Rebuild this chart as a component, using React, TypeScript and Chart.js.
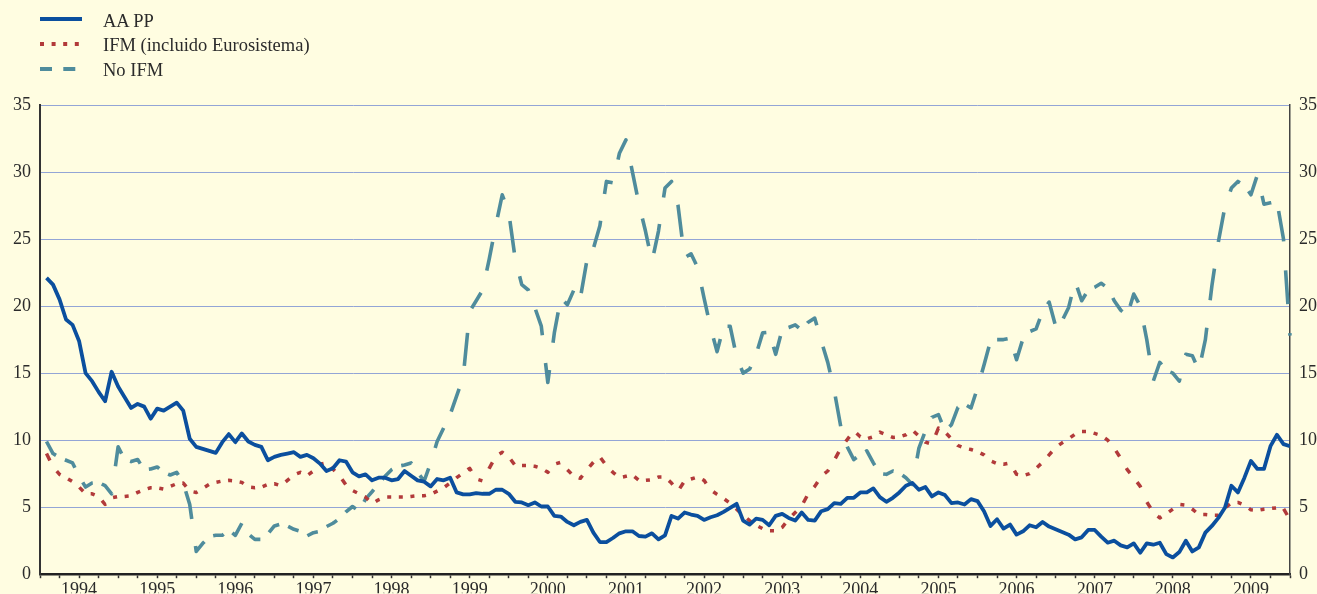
import React, { useEffect, useRef } from 'react';
import { Chart, registerables } from 'chart.js';

Chart.register(...registerables);

// ---------- data (monthly, Jan 1994 - Dec 2009) ----------
const YEARS = ['1994', '1995', '1996', '1997', '1998', '1999', '2000', '2001', '2002', '2003', '2004', '2005', '2006', '2007', '2008', '2009'];
const Y_TICKS = [0, 5, 10, 15, 20, 25, 30, 35];

const AA_PP = [
  22.1, 21.6, 20.5, 19.0, 18.6, 17.4, 15.0, 14.4, 13.6, 12.9, 15.1, 14.0,
  13.2, 12.4, 12.7, 12.5, 11.6, 12.35, 12.2, 12.5, 12.8, 12.2, 10.1, 9.5,
  9.35, 9.2, 9.05, 9.85, 10.45, 9.85, 10.5, 9.9, 9.65, 9.5, 8.5, 8.75,
  8.9, 9.0, 9.1, 8.75, 8.9, 8.65, 8.25, 7.7, 7.9, 8.5, 8.4, 7.6,
  7.3, 7.45, 7.0, 7.2, 7.2, 7.0, 7.1, 7.7, 7.35, 7.0, 6.9, 6.55,
  7.1, 7.0, 7.2, 6.1, 5.95, 5.95, 6.05, 6.0, 6.0, 6.3, 6.3, 6.0,
  5.4, 5.35, 5.15, 5.35, 5.05, 5.05, 4.35, 4.3, 3.9, 3.65, 3.9, 4.05,
  3.1, 2.4, 2.4, 2.7, 3.05, 3.2, 3.2, 2.85, 2.8, 3.05, 2.6, 2.9,
  4.35, 4.15, 4.6, 4.45, 4.35, 4.05, 4.25, 4.4, 4.65, 4.95, 5.25, 4.0,
  3.7, 4.15, 4.05, 3.65, 4.35, 4.5, 4.2, 4.0, 4.6, 4.05, 4.0, 4.7,
  4.85, 5.3, 5.25, 5.7, 5.7, 6.1, 6.1, 6.4, 5.75, 5.4, 5.7, 6.1,
  6.6, 6.8, 6.3, 6.5, 5.8, 6.1, 5.9, 5.3, 5.35, 5.2, 5.6, 5.45,
  4.7, 3.6, 4.1, 3.4, 3.7, 2.95, 3.2, 3.65, 3.5, 3.9, 3.55, 3.35,
  3.15, 2.95, 2.6, 2.75, 3.3, 3.3, 2.8, 2.35, 2.5, 2.15, 2.0, 2.3,
  1.6, 2.3, 2.2, 2.35, 1.5, 1.25, 1.65, 2.5, 1.7, 2.0, 3.1, 3.6,
  4.2, 4.95, 6.6, 6.1, 7.2, 8.45, 7.85, 7.85, 9.55, 10.4, 9.7, 9.55,
];

const IFM = [
  9.0, 8.0, 7.45, 7.2, 6.9, 6.5, 6.0, 6.0, 5.8, 5.2, 5.7, 5.8,
  5.8, 5.85, 6.1, 6.3, 6.45, 6.45, 6.35, 6.55, 6.75, 6.8, 6.2, 6.1,
  6.4, 6.7, 6.85, 6.95, 7.0, 6.95, 6.85, 6.5, 6.45, 6.5, 6.7, 6.75,
  6.6, 7.0, 7.4, 7.6, 7.35, 7.7, 8.2, 8.3, 7.85, 7.35, 6.65, 6.25,
  6.0, 5.75, 5.25, 5.55, 5.75, 5.75, 5.75, 5.75, 5.8, 5.85, 5.85, 5.95,
  6.2, 6.45, 6.8, 7.2, 7.55, 7.9, 7.1, 6.95, 7.9, 8.8, 9.1, 8.75,
  8.1, 8.1, 8.1, 8.05, 7.9, 7.6, 8.2, 8.35, 7.8, 7.3, 7.15, 7.8,
  8.35, 8.75, 8.1, 7.6, 7.2, 7.3, 7.4, 7.0, 7.0, 7.05, 7.25, 7.25,
  6.8, 6.2, 6.95, 7.1, 7.25, 7.0, 6.3, 5.95, 5.65, 5.3, 4.85, 4.4,
  4.0, 3.65, 3.4, 3.25, 3.25, 3.5, 4.1, 4.6, 5.1, 6.0, 6.55, 7.3,
  7.7, 8.5, 9.4, 10.05, 10.7, 10.25, 10.1, 10.25, 10.6, 10.4, 10.2, 10.25,
  10.4, 10.75, 10.3, 9.85, 9.7, 10.9, 10.6, 10.1, 9.6, 9.4, 9.3, 9.15,
  8.9, 8.45, 8.25, 8.2, 8.3, 7.45, 7.35, 7.5, 7.9, 8.35, 8.9, 9.45,
  9.8, 10.1, 10.45, 10.65, 10.65, 10.5, 10.35, 10.0, 9.4, 8.65, 7.8, 7.2,
  6.55, 5.4, 4.6, 4.2, 4.5, 4.85, 5.2, 5.15, 4.85, 4.45, 4.45, 4.4,
  4.4, 4.95, 5.3, 5.35, 5.15, 4.8, 4.75, 4.85, 4.9, 4.95, 4.9, 4.05,
];

const NO_IFM = [
  9.9, 9.0, 8.7, 8.5, 8.3, 7.3, 6.5, 6.8, 6.85, 6.6, 6.0, 9.5,
  8.55, 8.4, 8.55, 7.8, 7.85, 8.0, 7.6, 7.4, 7.6, 6.8, 5.2, 1.7,
  2.3, 2.8, 2.9, 2.9, 3.3, 2.9, 3.8, 3.0, 2.6, 2.6, 3.0, 3.6,
  3.75, 3.6, 3.35, 3.2, 2.85, 3.1, 3.2, 3.55, 3.8, 4.15, 4.65, 5.05,
  4.7, 5.6, 6.15, 6.75, 7.3, 7.8, 8.05, 8.15, 8.3, 7.6, 6.95, 8.3,
  9.9, 10.9, 11.9, 13.3, 14.7, 19.6, 20.4, 21.2, 23.5, 26.0, 28.3, 27.0,
  23.5, 21.6, 21.2, 19.9, 18.5, 14.3, 18.0, 20.6, 20.1, 21.2, 20.6, 23.4,
  24.3, 26.0, 29.3, 29.2, 31.4, 32.4, 30.0, 27.6, 25.6, 23.3, 25.6, 28.8,
  29.3, 27.5, 23.6, 23.9, 22.9, 20.6, 18.4, 16.6, 18.5, 18.5, 16.2, 15.0,
  15.3, 16.4, 18.0, 18.05, 16.4, 18.25, 18.4, 18.6, 18.2, 18.8, 19.1, 17.4,
  15.8, 13.7, 11.0, 9.5, 8.55, 8.9, 9.2, 8.3, 7.5, 7.45, 7.7, 7.55,
  7.2, 6.7, 9.4, 10.7, 11.7, 11.9, 10.7, 11.15, 12.45, 12.7, 12.4, 13.9,
  15.6, 17.4, 17.5, 17.5, 17.6, 16.0, 17.6, 18.1, 18.3, 19.6, 20.3, 18.5,
  18.9, 19.9, 21.85, 20.4, 21.2, 21.4, 21.7, 21.35, 20.4, 19.7, 19.3, 20.9,
  20.0, 17.5, 14.4, 15.8, 15.2, 15.0, 14.4, 16.4, 16.3, 15.2, 17.5, 21.5,
  24.8, 27.4, 28.8, 29.3, 29.0, 28.3, 29.8, 27.6, 27.7, 27.8, 25.0, 17.8,
];

const SERIES_NAMES = ['AA PP', 'IFM (incluido Eurosistema)', 'No IFM'];

// ---------- styles ----------
const BG = '#fffde1';
const BLUE = '#0b4f9e';
const RED = '#b23a3a';
const TEAL = '#4f8c9c';
const GRID = '#93a5d6';
const TEXT = '#2b2b2b';
const FONT = '"Liberation Serif", "Times New Roman", Times, serif';

// Dash pattern measured in a space where vertical distance counts less
// (as in the original drawing, where dashes stretch on steep stretches).
const anisoDashPlugin = {
  id: 'anisoDash',
  beforeDatasetDraw(chart: any, args: any) {
    const ds: any = chart.data.datasets[args.index];
    const cfg = ds.anisoDash;
    if (!cfg) return;
    const pts = args.meta.data;
    if (!pts || pts.length < 2) return;
    const ctx = chart.ctx;
    const pattern: number[] = cfg.pattern;
    const s: number = cfg.yScale;
    ctx.save();
    ctx.strokeStyle = ds.borderColor;
    ctx.lineWidth = ds.borderWidth;
    ctx.lineCap = 'butt';
    ctx.lineJoin = 'round';
    ctx.beginPath();
    let idx = 0;
    let remaining = pattern[0];
    let on = true;
    let px = pts[0].x;
    let py = pts[0].y;
    ctx.moveTo(px, py);
    for (let i = 1; i < pts.length; i++) {
      const qx = pts[i].x;
      const qy = pts[i].y;
      const dx = qx - px;
      const dy = qy - py;
      const L = Math.hypot(dx, dy / s);
      let t = 0;
      while (L - t > remaining) {
        t += remaining;
        const f = t / L;
        const x = px + dx * f;
        const y = py + dy * f;
        if (on) ctx.lineTo(x, y);
        else ctx.moveTo(x, y);
        on = !on;
        idx = (idx + 1) % pattern.length;
        remaining = pattern[idx];
      }
      remaining -= L - t;
      if (on) ctx.lineTo(qx, qy);
      else ctx.moveTo(qx, qy);
      px = qx;
      py = qy;
    }
    ctx.stroke();
    ctx.restore();
    return false;
  },
};

const toPoints = (arr: number[]) => arr.map((v, i) => ({ x: i + 1, y: v }));

function LegendRow({ top, kind, label }: { top: number; kind: 'solid' | 'dot' | 'dash'; label: string }) {
  const stroke = kind === 'solid' ? BLUE : kind === 'dot' ? RED : TEAL;
  const dash = kind === 'solid' ? undefined : kind === 'dot' ? '4 7.6' : '12 11.3';
  return (
    <>
      <svg
        width={46}
        height={8}
        style={{ position: 'absolute', left: 40, top: top - 4, overflow: 'visible' }}
      >
        <line x1={0} y1={4} x2={kind === 'dash' ? 36 : 42} y2={4} stroke={stroke} strokeWidth={4} strokeDasharray={dash} />
      </svg>
      <div
        style={{
          position: 'absolute',
          left: 103,
          top: top - 8.5,
          fontFamily: FONT,
          fontSize: 18.5,
          lineHeight: '20px',
          color: TEXT,
          whiteSpace: 'nowrap',
        }}
      >
        {label}
      </div>
    </>
  );
}

export default function App() {
  const ref = useRef<HTMLCanvasElement | null>(null);

  useEffect(() => {
    if (!ref.current) return;
    const tickFont = { family: FONT, size: 18 };
    const chart = new Chart(ref.current, {
      type: 'line',
      data: {
        datasets: [
          {
            label: SERIES_NAMES[0],
            data: toPoints(AA_PP),
            borderColor: BLUE,
            borderWidth: 3.8,
            borderJoinStyle: 'round',
            pointRadius: 0,
            tension: 0,
            fill: false,
          } as any,
          {
            label: SERIES_NAMES[1],
            data: toPoints(IFM),
            borderColor: RED,
            borderWidth: 3.5,
            pointRadius: 0,
            tension: 0,
            fill: false,
            anisoDash: { pattern: [4, 7.6], yScale: 3.3 },
          } as any,
          {
            label: SERIES_NAMES[2],
            data: toPoints(NO_IFM),
            borderColor: TEAL,
            borderWidth: 3.6,
            pointRadius: 0,
            tension: 0,
            fill: false,
            anisoDash: { pattern: [10.5, 9], yScale: 3.3 },
          } as any,
        ],
      },
      options: {
        responsive: false,
        animation: false,
        devicePixelRatio: 1,
        layout: { padding: { top: 105, left: 0, right: 0, bottom: 0 } },
        plugins: { legend: { display: false }, tooltip: { enabled: false } },
        scales: {
          x: {
            type: 'linear',
            min: 0,
            max: YEARS.length * 12,
            afterFit: (s: any) => {
              s.height = 19;
            },
            grid: { drawOnChartArea: false, drawTicks: true, tickLength: 4, tickColor: '#333', tickWidth: 1.5 },
            border: { display: true, color: '#222', width: 2.5 },
            ticks: {
              stepSize: 3,
              autoSkip: false,
              maxRotation: 0,
              minRotation: 0,
              padding: 1,
              color: TEXT,
              font: tickFont,
              callback: (v: any) => {
                const n = Number(v);
                if (n % 12 !== 6) return '';
                return YEARS[(n - 6) / 12] ?? '';
              },
            },
          },
          y: {
            position: 'left',
            min: 0,
            max: 35,
            afterFit: (s: any) => {
              s.width = 40;
            },
            afterBuildTicks: (s: any) => {
              s.ticks = Y_TICKS.map((v) => ({ value: v }));
            },
            grid: {
              color: (c: any) => (c.tick && c.tick.value === 0 ? 'rgba(0,0,0,0)' : GRID),
              lineWidth: 1,
              drawTicks: false,
            },
            border: { display: true, color: '#333', width: 2 },
            ticks: { padding: 9, color: TEXT, font: tickFont },
          },
          y2: {
            position: 'right',
            min: 0,
            max: 35,
            afterFit: (s: any) => {
              s.width = 27;
            },
            afterBuildTicks: (s: any) => {
              s.ticks = Y_TICKS.map((v) => ({ value: v }));
            },
            grid: { drawOnChartArea: false, drawTicks: false },
            border: { display: true, color: '#444', width: 1.5 },
            ticks: { padding: 9, color: TEXT, font: tickFont },
          },
        },
      } as any,
      plugins: [anisoDashPlugin as any],
    });
    return () => chart.destroy();
  }, []);

  return (
    <div
      style={{
        position: 'absolute',
        left: 0,
        top: 0,
        width: 1317,
        height: 594,
        background: BG,
        overflow: 'hidden',
      }}
    >
      <canvas ref={ref} width={1317} height={594} style={{ position: 'absolute', left: 0, top: 0, display: 'block' }} />
      <LegendRow top={19} kind="solid" label={SERIES_NAMES[0]} />
      <LegendRow top={43.5} kind="dot" label={SERIES_NAMES[1]} />
      <LegendRow top={68.5} kind="dash" label={SERIES_NAMES[2]} />
    </div>
  );
}
